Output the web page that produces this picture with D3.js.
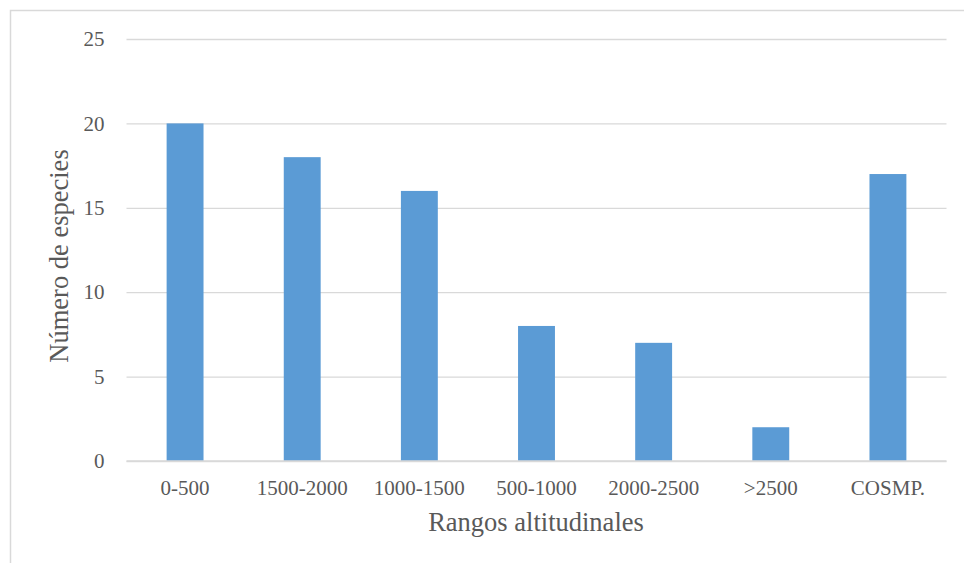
<!DOCTYPE html>
<html><head><meta charset="utf-8">
<script src="https://cdn.jsdelivr.net/npm/d3@7"></script>
<style>body{margin:0;background:#fff}svg{display:block}</style>
</head><body>
<svg id="c" width="964" height="563"></svg>
<script>
const categories = ["0-500","1500-2000","1000-1500","500-1000","2000-2500",">2500","COSMP."];
const values = [20,18,16,8,7,2,17];
const yTicks = [0,5,10,15,20,25];
const xTitle = "Rangos altitudinales";
const yTitle = "Número de especies";

(function(){
const svg = d3.select("#c");
const font = "\"Liberation Serif\",\"Times New Roman\",serif";
const txt = "#595959";

svg.append("rect").attr("x",10.5).attr("y",10.5).attr("width",970).attr("height",570)
  .attr("fill","none").attr("stroke","#d9d9d9").attr("stroke-width",1.5);

const pl=126.5, pr=946.5, pt=39, pb=461;
const x = d3.scaleBand().domain(categories).range([pl,pr]).paddingInner(0.685).paddingOuter(0.3425);
const y = d3.scaleLinear().domain([0,25]).range([pb,pt]);

const yAxis = svg.append("g").attr("transform",`translate(${pl},0)`)
  .call(d3.axisLeft(y).tickValues(yTicks).tickSize(-(pr-pl)).tickPadding(22));
yAxis.select(".domain").remove();
yAxis.selectAll(".tick line").attr("stroke","#d9d9d9").attr("stroke-width",1.3);
yAxis.selectAll(".tick text").attr("fill",txt).style("font-family",font).style("font-size","21px");

svg.append("g").selectAll("rect").data(values).join("rect")
  .attr("x",(d,i)=>x(categories[i])).attr("width",x.bandwidth())
  .attr("y",d=>y(d)).attr("height",d=>y(0)-y(d)).attr("fill","#5b9bd5");

svg.append("line").attr("x1",pl).attr("x2",pr).attr("y1",y(0)).attr("y2",y(0))
  .attr("stroke","#d9d9d9").attr("stroke-width",1.3);

const xAxis = svg.append("g").attr("transform",`translate(0,${pb})`)
  .call(d3.axisBottom(x).tickSize(0).tickPadding(19));
xAxis.select(".domain").remove();
xAxis.selectAll(".tick text").attr("fill",txt).style("font-family",font).style("font-size","21px");

svg.append("text").attr("x",536).attr("y",531).attr("text-anchor","middle")
  .attr("fill",txt).style("font-family",font).style("font-size","26.5px").text(xTitle);
svg.append("text").attr("transform",`translate(68,256) rotate(-90)`).attr("text-anchor","middle")
  .attr("fill",txt).style("font-family",font).style("font-size","26.5px").text(yTitle);
})();
</script>
</body></html>
